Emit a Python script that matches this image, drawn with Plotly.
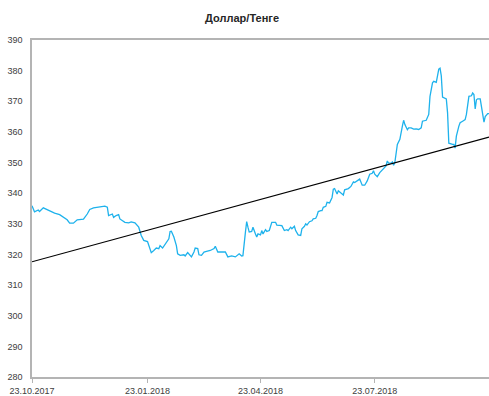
import pandas as pd
import plotly.graph_objects as go

# USD/KZT exchange rate, days counted from 23.10.2017
start_date = "2017-10-23"
day_offsets = [
    0, 2, 5, 6, 9, 12, 14, 18, 22, 25, 28, 30, 33, 36, 38, 41, 44, 46, 49, 52,
    54, 58, 60, 61, 64, 65, 67, 69, 70, 72, 74, 77, 79, 82, 85, 87, 89, 92, 95, 97,
    99, 101, 102, 104, 105, 107, 109, 110, 111, 113, 115, 116, 118, 121, 122, 124, 126, 127, 129, 130,
    132, 133, 135, 137, 139, 142, 145, 146, 148, 151, 154, 156, 159, 162, 164, 165, 167, 168, 170, 171,
    172, 173, 175, 176, 178, 179, 180, 182, 183, 184, 186, 187, 189, 191, 194, 195, 199, 201, 203, 204,
    206, 207, 209, 210, 212, 214, 215, 217, 218, 219, 221, 223, 224, 226, 227, 228, 230, 231, 232, 234,
    235, 237, 239, 240, 241, 243, 244, 246, 248, 249, 252, 254, 256, 257, 259, 261, 263, 265, 267, 269,
    271, 272, 273, 275, 277, 279, 280, 281, 282, 283, 284, 286, 287, 288, 289, 291, 292, 293, 295, 296,
    297, 299, 300, 302, 304, 306, 308, 310, 311, 314, 316, 317, 319, 320, 322, 324, 325, 326, 327, 330,
    331, 332, 335, 336, 337, 338, 340, 341, 343, 345, 346, 348, 350, 351, 352, 353, 354, 355, 357, 358,
    360, 361, 363, 364,
]
usd_kzt = [
    335.9, 333.9, 334.5, 334.0, 335.2, 334.6, 334.1, 333.5, 333.0, 332.1, 331.3, 330.2, 330.2, 331.3, 331.4, 331.5, 333.2, 334.7, 335.2, 335.4,
    335.6, 335.8, 335.4, 332.7, 333.2, 332.1, 332.7, 333.0, 331.6, 331.0, 330.5, 330.3, 330.6, 330.3, 328.9, 326.2, 324.6, 324.2, 320.6, 321.3,
    322.1, 321.9, 322.9, 322.1, 322.7, 324.0, 325.1, 327.5, 327.6, 325.7, 322.9, 320.2, 319.7, 319.9, 319.5, 320.6, 319.7, 319.2, 320.8, 322.1,
    321.9, 319.9, 319.7, 320.8, 321.0, 321.3, 321.9, 322.7, 320.8, 320.8, 320.8, 319.2, 319.5, 319.2, 319.9, 320.2, 319.5, 319.6, 327.3, 330.7,
    328.9, 327.3, 327.5, 328.9, 326.7, 325.7, 326.7, 326.4, 327.8, 326.7, 328.1, 327.5, 327.8, 330.5, 330.5, 329.6, 329.4, 327.8, 328.1, 327.8,
    328.9, 328.4, 329.2, 327.8, 326.4, 326.2, 328.4, 329.2, 330.0, 329.6, 330.7, 331.0, 331.6, 331.8, 332.7, 334.0, 334.3, 334.3, 335.4, 335.7,
    337.0, 336.8, 338.6, 341.3, 341.5, 339.7, 340.8, 340.0, 339.4, 341.1, 341.5, 342.2, 343.7, 343.5, 344.0, 344.6, 342.6, 342.6, 344.0, 346.2,
    346.5, 347.3, 346.2, 345.4, 346.7, 347.6, 347.8, 348.4, 348.9, 350.5, 349.8, 349.8, 350.2, 349.1, 350.0, 355.9, 357.0, 357.6, 361.9, 363.8,
    362.4, 360.7, 361.3, 361.3, 360.9, 361.0, 360.8, 361.3, 363.5, 363.8, 365.7, 371.6, 376.0, 376.5, 376.2, 380.5, 380.8, 378.3, 371.4, 370.8,
    366.2, 356.3, 355.9, 355.9, 354.7, 358.6, 361.9, 363.0, 363.5, 364.0, 365.7, 371.6, 371.8, 372.7, 372.2, 367.5, 370.5, 370.8, 370.8, 368.4,
    363.2, 365.0, 366.0, 366.0,
]

# Linear trend endpoints
trend_dates = ["2017-10-23", "2018-10-22"]
trend_values = [317.6, 358.3]

# Axis ticks
x_tick_dates = ["2017-10-23", "2018-01-23", "2018-04-23", "2018-07-23"]
x_tick_labels = ["23.10.2017", "23.01.2018", "23.04.2018", "23.07.2018"]
x_range = ["2017-10-23", "2018-10-22"]
y_range = [280, 390]

dates = pd.Timestamp(start_date) + pd.to_timedelta(day_offsets, unit="D")

fig = go.Figure()
fig.add_trace(go.Scatter(
    x=dates, y=usd_kzt, mode="lines",
    line=dict(color="#1EB2EC", width=1.3),
    hoverinfo="x+y", showlegend=False,
))
fig.add_trace(go.Scatter(
    x=trend_dates, y=trend_values, mode="lines",
    line=dict(color="#000000", width=1.1),
    hoverinfo="skip", showlegend=False,
))

axis_grey = "#b4b4b4"
fig.update_layout(
    width=489, height=396,
    margin=dict(l=32, r=0, t=40, b=17),
    paper_bgcolor="white", plot_bgcolor="white",
    font=dict(family="Liberation Sans, Arial, sans-serif", size=9, color="#404040"),
    title=dict(
        text="<b>Доллар/Тенге</b>",
        font=dict(size=11, color="#262626"),
        x=0.495, xref="container", xanchor="center",
        y=1 - 18 / 396, yref="container", yanchor="middle",
    ),
    xaxis=dict(
        type="date", range=x_range,
        tickvals=x_tick_dates, ticktext=x_tick_labels,
        ticks="outside", ticklen=4, tickcolor=axis_grey, tickwidth=1,
        showline=True, linecolor=axis_grey, linewidth=1.5, mirror=True,
        showgrid=False, zeroline=False,
    ),
    yaxis=dict(
        range=y_range, dtick=10, tick0=280,
        ticks="", showline=True, linecolor=axis_grey, linewidth=1.5,
        showgrid=False, zeroline=False, ticklabelstandoff=6,
    ),
)

fig.write_html("out.html")
